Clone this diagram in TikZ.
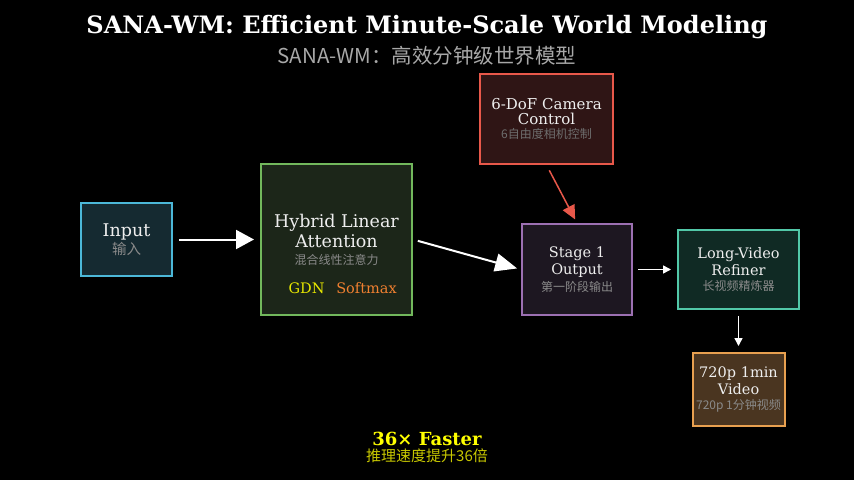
\documentclass[tikz,border=0pt]{standalone}
\usepackage{fontspec}
\setmainfont{DejaVu Serif}
\newfontfamily\cjk{Noto Sans CJK SC}
\usetikzlibrary{arrows.meta, positioning}

\definecolor{maintext}{HTML}{EEEEEE}
\definecolor{subgray}{HTML}{A8A8A8}
\definecolor{cngray}{HTML}{8A8A8A}
\definecolor{inputbg}{HTML}{152A31}
\definecolor{inputln}{HTML}{4CB8D8}
\definecolor{hlabg}{HTML}{1C2619}
\definecolor{hlaln}{HTML}{72B85C}
\definecolor{cambg}{HTML}{2F1515}
\definecolor{camln}{HTML}{E8584A}
\definecolor{stagebg}{HTML}{1D1721}
\definecolor{stageln}{HTML}{9C70B2}
\definecolor{refbg}{HTML}{102A24}
\definecolor{refln}{HTML}{52C8A8}
\definecolor{vidbg}{HTML}{4A3520}
\definecolor{vidln}{HTML}{E8A050}
\definecolor{gdnyellow}{HTML}{E8E800}
\definecolor{smorange}{HTML}{F08030}
\definecolor{fastyellow}{HTML}{FFFF00}
\definecolor{fastcn}{HTML}{C8C800}

\newcommand{\cn}[2][cngray]{{\cjk\fontsize{12}{15}\selectfont\color{#1}#2}}

\begin{document}
\begin{tikzpicture}[x=1pt, y=-1pt]
\useasboundingbox[fill=black] (0,0) rectangle (854,480);

% title
\node[text=white, font={\fontsize{24}{28}\selectfont\bfseries}] (title) at (427,27) {SANA-WM: Efficient Minute-Scale World Modeling};
\node[text=subgray, font={\cjk\fontsize{20.5}{24}\selectfont}] (subtitle) at (427,56) {SANA-WM：高效分钟级世界模型};

\begin{scope}[every node/.style={draw, line width=2pt, align=center, text=maintext, inner sep=0pt, font={\fontsize{14.5}{17}\selectfont}}]
    \node[fill=inputbg, draw=inputln, minimum width=91, minimum height=73, font={\fontsize{17.5}{18}\selectfont}] (input) at (126.5,239.5) {Input\\{\cjk\fontsize{14.5}{16}\selectfont\color{cngray}输入}};
    \node[fill=hlabg, draw=hlaln, minimum width=151, minimum height=151, font={\fontsize{17.5}{20}\selectfont}] (hla) at (336.5,239.5) {Hybrid Linear\\Attention\\[-3pt]\cn{混合线性注意力}};
    \node[fill=cambg, draw=camln, minimum width=133, minimum height=90, font={\fontsize{15}{17}\selectfont}] (cam) at (546.5,119) {6-DoF Camera\\[-2pt]Control\\[-3pt]\cn[cngray!80!black]{6自由度相机控制}};
    \node[fill=stagebg, draw=stageln, minimum width=110, minimum height=91] (stage) at (577,269.5) {Stage 1\\Output\\\cn{第一阶段输出}};
    \node[fill=refbg, draw=refln, minimum width=121, minimum height=79] (refiner) at (738.5,269.5) {Long-Video\\Refiner\\[-2pt]\cn{长视频精炼器}};
    \node[fill=vidbg, draw=vidln, minimum width=92, minimum height=73] (video) at (738.5,389.5) {720p 1min\\Video\\[-2pt]\cn{720p 1分钟视频}};
\end{scope}

\node[text=gdnyellow, font={\fontsize{14.5}{17}\selectfont}] (gdn) at (306.5,288) {GDN};
\node[text=smorange, font={\fontsize{14.5}{17}\selectfont}] (softmax) at (366.5,288) {Softmax};

\draw[-{Triangle[length=18pt, width=19pt]}, white, line width=2pt, shorten <=6pt, shorten >=6pt] (input) -- (hla);
\draw[-{Triangle[length=22pt, width=18pt]}, white, line width=2pt, shorten <=5pt, shorten >=4pt] (hla.east) -- (stage.west);
\draw[-{Triangle[length=14pt, width=13pt]}, camln, line width=1.5pt, shorten <=6pt, shorten >=4pt] (cam.south) -- (stage.north);
\draw[-{Triangle[length=8pt, width=8pt]}, white, line width=1.5pt, shorten <=5pt, shorten >=6pt] (stage) -- (refiner);
\draw[-{Triangle[length=8pt, width=8pt]}, white, line width=1.5pt, shorten <=6pt, shorten >=6pt] (refiner.south) -- (video.north);

% speed-up note
\node[text=fastyellow, inner sep=0pt, font={\fontsize{18}{20}\selectfont\bfseries}] (faster) at (427,439) {36× Faster};
\node[text=fastcn, inner sep=0pt, font={\cjk\fontsize{15}{17}\selectfont}] (fastercn) at (427,456) {推理速度提升36倍};
\end{tikzpicture}
\end{document}
